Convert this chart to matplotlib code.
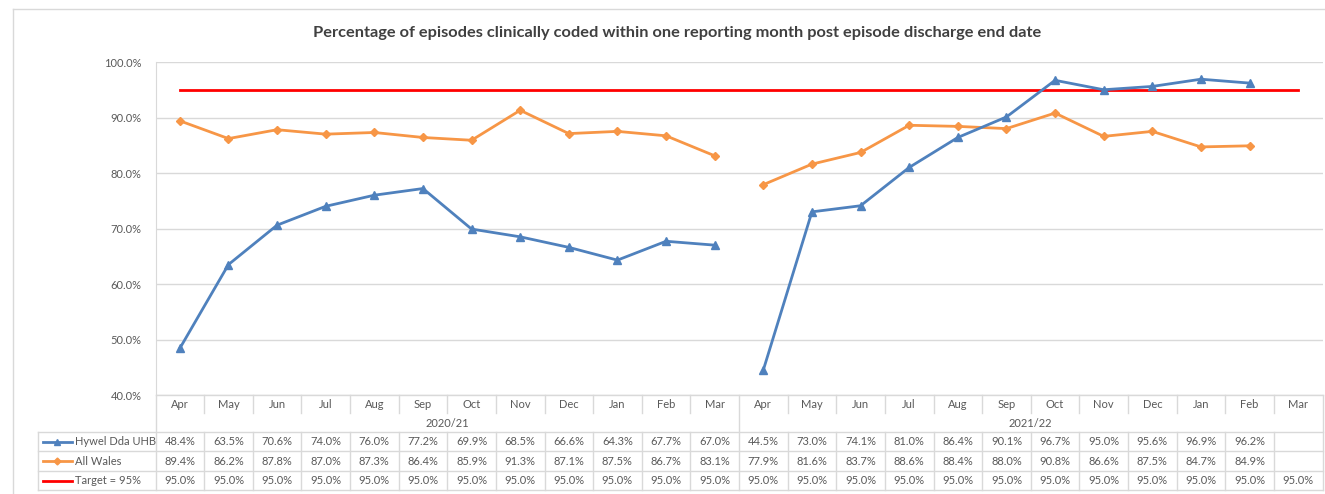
import matplotlib.pyplot as plt
import numpy as np

months = ['Apr', 'May', 'Jun', 'Jul', 'Aug', 'Sep', 'Oct', 'Nov', 'Dec', 'Jan', 'Feb', 'Mar']
years = ['2020/21', '2021/22']

hywel = [48.4, 63.5, 70.6, 74.0, 76.0, 77.2, 69.9, 68.5, 66.6, 64.3, 67.7, 67.0,
         44.5, 73.0, 74.1, 81.0, 86.4, 90.1, 96.7, 95.0, 95.6, 96.9, 96.2, None]
wales = [89.4, 86.2, 87.8, 87.0, 87.3, 86.4, 85.9, 91.3, 87.1, 87.5, 86.7, 83.1,
         77.9, 81.6, 83.7, 88.6, 88.4, 88.0, 90.8, 86.6, 87.5, 84.7, 84.9, None]
target = [95.0] * 24

names = ['Hywel Dda UHB', 'All Wales', 'Target = 95%']
blue = '#4F81BD'
orange = '#F79646'
red = '#FF0000'
grid = '#D9D9D9'
txt = '#595959'

W, H = 1325, 494
fig = plt.figure(figsize=(W / 100, H / 100), dpi=100)
plt.rcParams['font.family'] = ['Lato', 'DejaVu Sans']

# pixel geometry of the Excel plot area
px_left, px_right = 155.5, 1322.5
px_top, px_bot = 62, 395
ax = fig.add_axes([px_left / W, 1 - px_bot / H, (px_right - px_left) / W, (px_bot - px_top) / H])
n = len(target)
ax.set_xlim(-0.5, n - 0.5)
ax.set_ylim(40, 100)
ax.set_yticks(np.arange(40, 101, 10))
ax.set_yticklabels(['%.1f%%' % v for v in np.arange(40, 101, 10)], color=txt, fontsize=8)
ax.tick_params(axis='y', length=0, pad=10)
ax.set_xticks([])
ax.grid(axis='y', color=grid, linewidth=1)
ax.set_axisbelow(True)
for s in ['top', 'right', 'bottom']:
    ax.spines[s].set_visible(False)
ax.spines['left'].set_color(grid)

x = np.arange(n)


def seg(vals, lo, hi):
    xs = [i for i in range(lo, hi) if vals[i] is not None]
    return xs, [vals[i] for i in xs]


ax.plot(*seg(target, 0, n), color=red, linewidth=2, zorder=2)
for lo, hi in [(0, 12), (12, 24)]:
    ax.plot(*seg(wales, lo, hi), color=orange, linewidth=2, marker='D', markersize=4.5, zorder=3)
    ax.plot(*seg(hywel, lo, hi), color=blue, linewidth=2, marker='^', markersize=6, zorder=4)

fig.text(677 / W, 1 - 33 / H,
         'Percentage of episodes clinically coded within one reporting month post episode discharge end date',
         ha='center', va='center', fontsize=11.8, fontweight='bold', color='#404040')

# outer chart border
fig.add_artist(plt.Line2D([13 / W, 13 / W], [0, 1 - 9 / H], transform=fig.transFigure, color=grid, lw=1))
fig.add_artist(plt.Line2D([13 / W, 1], [1 - 9 / H, 1 - 9 / H], transform=fig.transFigure, color=grid, lw=1))

# data table below the plot, drawn in pixel coordinates
colw = (px_right - px_left) / n


def fx(p):
    return p / W


def fy(p):
    return 1 - p / H


def hline(x0, x1, y):
    fig.add_artist(plt.Line2D([fx(x0), fx(x1)], [fy(y), fy(y)], transform=fig.transFigure, color=grid, lw=1))


def vline(xp, y0, y1):
    fig.add_artist(plt.Line2D([fx(xp), fx(xp)], [fy(y0), fy(y1)], transform=fig.transFigure, color=grid, lw=1))


row_y = [395, 413, 432, 451, 471, 490]
leg_left = 38

hline(px_left, px_right, 395)
for i in range(n + 1):
    xp = px_left + i * colw
    if i % 12 == 0:
        vline(xp, 395, 490)
    else:
        vline(xp, 395, 413)
        vline(xp, 432, 490)
for i in range(n):
    cx = px_left + (i + 0.5) * colw
    fig.text(fx(cx), fy(404), months[i % 12], ha='center', va='center', fontsize=8, color=txt)
for k, yr in enumerate(years):
    cx = px_left + (k * 12 + 6) * colw
    fig.text(fx(cx), fy(423), yr, ha='center', va='center', fontsize=8, color=txt)

for r in range(4):
    hline(leg_left, px_right, row_y[2 + r])
vline(leg_left, 432, 490)

series = [(hywel, blue, '^', 5), (wales, orange, 'D', 3.5), (target, red, None, 0)]
for r, (vals, col, mk, ms) in enumerate(series):
    cy = (row_y[2 + r] + row_y[3 + r]) / 2
    for i in range(n):
        if vals[i] is not None:
            cx = px_left + (i + 0.5) * colw
            fig.text(fx(cx), fy(cy), '%.1f%%' % vals[i], ha='center', va='center', fontsize=8, color=txt)
    fig.add_artist(plt.Line2D([fx(43), fx(72)], [fy(cy), fy(cy)], transform=fig.transFigure,
                              color=col, lw=2))
    if mk:
        fig.add_artist(plt.Line2D([fx(57.5)], [fy(cy)], transform=fig.transFigure,
                                  color=col, marker=mk, markersize=ms, linestyle='none'))
    fig.text(fx(75), fy(cy), names[r], ha='left', va='center', fontsize=8, color=txt)

fig.savefig('out.png', dpi=100)
